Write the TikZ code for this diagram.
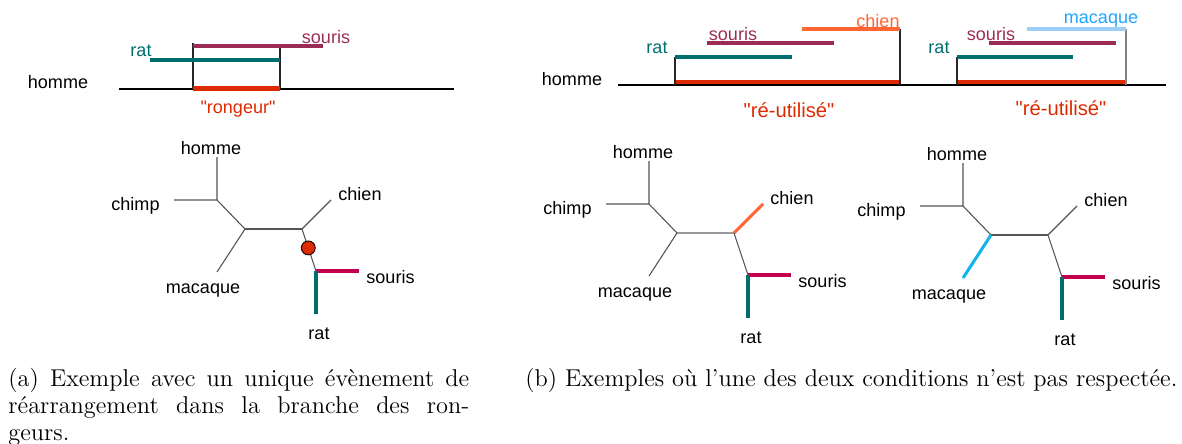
\documentclass[tikz,border=0pt]{standalone}
\usepackage{fontspec}
\usetikzlibrary{positioning}
\newfontfamily\helv{Liberation Sans}
\definecolor{ratcol}{HTML}{006E6E}
\definecolor{souriscol}{HTML}{9C2C56}
\definecolor{souristree}{HTML}{C2004E}
\definecolor{rongcol}{HTML}{DD2A00}
\definecolor{chiencol}{HTML}{FF6633}
\definecolor{macbar}{HTML}{9CCEFA}
\definecolor{maclab}{HTML}{1EA6FF}
\definecolor{mactree}{HTML}{12B4EC}
\definecolor{branchgray}{HTML}{555555}
\tikzset{
  etiq/.style={font=\helv\fontsize{8.3}{10}\selectfont, inner sep=0pt},
  grandetiq/.style={etiq, font=\helv\fontsize{9.3}{11}\selectfont},
  legende/.style={font=\fontsize{11.2}{12.3}\selectfont, inner sep=0pt, anchor=north west},
  barre/.style={line width=2.2pt},
  ligne/.style={line width=1.1pt, draw=black},
  trait/.style={line width=0.5pt, draw=black!85},
  branch/.style={line width=0.5pt, draw=branchgray},
  colbranch/.style={line width=1.4pt, draw=#1},
  brmid/.style={branch},
  brmac/.style={branch},
  brchien/.style={branch},
  evt/.style={circle, draw=black, line width=0.4pt, fill=rongcol, inner sep=0pt, minimum size=6.4pt}
}
\newcommand{\arbre}[1]{%
  \coordinate (#1-r) at (0,0);
  \coordinate (#1-j1) at (28,29);
  \coordinate (#1-j2) at (85,29);
  \coordinate (#1-j3) at (99,71);
  \coordinate (#1-fh) at (0,-43);
  \coordinate (#1-fc) at (-43,0);
  \coordinate (#1-fm) at (0,72);
  \coordinate (#1-fd) at (114,0);
  \coordinate (#1-fs) at (142,71);
  \coordinate (#1-fr) at (99,114);
  \node[etiq] (#1-homme) at (-6,-52) {homme};
  \node[etiq, anchor=east] (#1-chimp) at (-57,6) {chimp};
  \node[etiq] (#1-macaque) at (-14,91) {macaque};
  \node[etiq, anchor=west] (#1-chien) at (121,-6) {chien};
  \node[etiq, anchor=west] (#1-souris) at (149,77) {souris};
  \node[etiq] (#1-rat) at (102,134) {rat};
  \draw[branch] (#1-fh) -- (#1-r) -- (#1-j1) (#1-fc) -- (#1-r);
  \draw[brmid] (#1-j1) -- (#1-j2);
  \draw[brmac] (#1-j1) -- (#1-fm);
  \draw[brchien] (#1-j2) -- (#1-fd);
  \draw[branch] (#1-j2) -- (#1-j3);
  \draw[colbranch=souristree] (#1-j3) -- (#1-fs);
  \draw[colbranch=ratcol] (#1-j3) -- (#1-fr);
}

\begin{document}
\begin{tikzpicture}[x=0.46pt,y=-0.46pt]
  \useasboundingbox (0,0) rectangle (1182,444);

  \draw[ligne] (119,89) -- (454,89);
  \draw[trait] (193,43) -- (193,89) (280,46) -- (280,89);
  \draw[barre, rongcol] (193,88.5) -- (280,88.5);
  \draw[barre, souriscol] (193,46) -- (323,46);
  \draw[barre, ratcol] (150,60) -- (280,60);
  \node[etiq] (homme-a) at (58,82) {homme};
  \node[etiq, text=ratcol] (rat-a) at (141,51) {rat};
  \node[etiq, text=souriscol] (souris-a) at (326,37) {souris};
  \node[etiq, text=rongcol] (rongeur) at (238,109) {"rongeur"};

  \begin{scope}[shift={(217,200)}]
    \arbre{ta}
    \path (ta-j2) -- (ta-j3) node[evt, pos=0.45] (ta-evt) {};
  \end{scope}

  \draw[ligne, line width=1.3pt] (618,85) -- (1166,85);
  \draw[barre, rongcol] (675,82) -- (900,82) (957,82) -- (1125,82);
  \draw[trait] (675,57) -- (675,85) (900,29) -- (900,85) (957,57) -- (957,85);
  \draw[trait, draw=black!50] (1126,29) -- (1126,85);
  \draw[barre, ratcol] (675,57) -- (792,57) (957,57) -- (1073,57);
  \draw[barre, souriscol] (707,43) -- (834,43) (989,43) -- (1116,43);
  \draw[barre, chiencol] (802,29) -- (900,29);
  \draw[barre, macbar] (1027,29) -- (1126,29);
  \node[etiq] (homme-b) at (572,79) {homme};
  \node[etiq, text=ratcol] (rat-b1) at (657,48) {rat};
  \node[etiq, text=souriscol] (souris-b1) at (733,34) {souris};
  \node[etiq, text=chiencol] (chien-b1) at (878,21) {chien};
  \node[grandetiq, text=rongcol] (reut-b1) at (789,110) {"ré-utilisé"};
  \node[etiq, text=ratcol] (rat-b2) at (939,48) {rat};
  \node[etiq, text=souriscol] (souris-b2) at (991,34) {souris};
  \node[etiq, text=maclab] (macaque-b2) at (1101,21) {macaque};
  \node[grandetiq, text=rongcol] (reut-b2) at (1061,108) {"ré-utilisé"};

  \begin{scope}[shift={(649,204)}, brchien/.style={colbranch=chiencol}, brmid/.style={branch, draw=black!40}]
    \arbre{tb}
  \end{scope}
  \begin{scope}[shift={(963,206)}, brmac/.style={colbranch=mactree}]
    \arbre{tc}
  \end{scope}

  \node[legende, text width=212pt, align=justify] (cap-a) at (8,368)
    {(a) Exemple avec un unique évènement de\linebreak réarrangement dans la branche des ron-\linebreak geurs.};
  \node[legende] (cap-b) at (525,368)
    {(b) Exemples où l'une des deux conditions n'est pas respectée.};
\end{tikzpicture}
\end{document}
